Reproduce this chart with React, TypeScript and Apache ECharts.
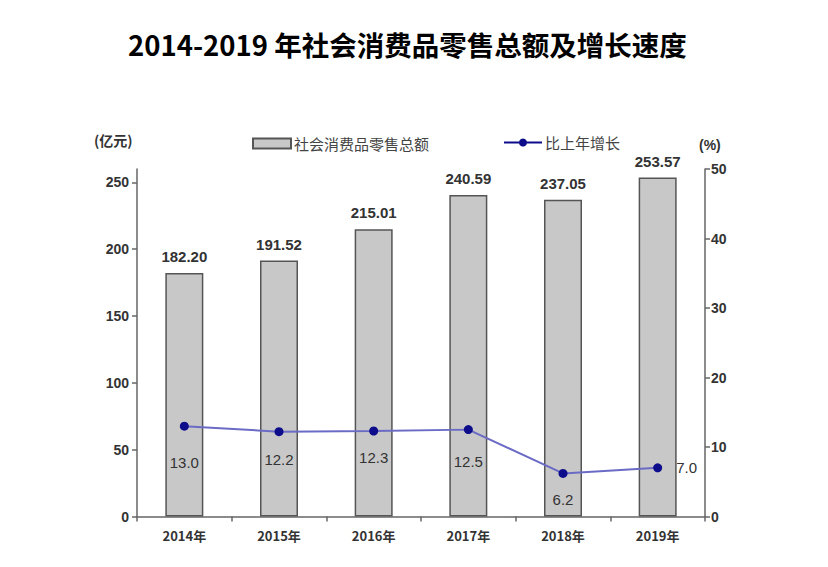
import React, { useEffect, useRef } from "react";
import * as echarts from "echarts";

const titleText = "2014-2019 年社会消费品零售总额及增长速度";
const categories = ["2014年", "2015年", "2016年", "2017年", "2018年", "2019年"];
const salesValues = [182.2, 191.52, 215.01, 240.59, 237.05, 253.57];
const growthValues = [13.0, 12.2, 12.3, 12.5, 6.2, 7.0];
const leftTicks = [0, 50, 100, 150, 200, 250];
const salesName = "社会消费品零售总额";
const growthName = "比上年增长";
const leftUnit = "(亿元)";
const rightUnit = "(%)";

const FONT = "'Liberation Sans', 'Noto Sans CJK SC', sans-serif";
const CJK = "'Noto Sans CJK SC', 'Liberation Sans', sans-serif";

// label placement per point (position, distance)
const growthLabelPos: Array<[string, number]> = [
  ["bottom", 24],
  ["bottom", 16],
  ["bottom", 14],
  ["bottom", 20],
  ["bottom", 14],
  ["right", 14],
];

export default function App() {
  const ref = useRef<HTMLDivElement>(null);
  useEffect(() => {
    if (!ref.current) return;
    const chart = echarts.init(ref.current, null, { renderer: "svg" });
    const option: any = {
      animation: false,
      backgroundColor: "#ffffff",
      title: {
        text: titleText,
        left: 123,
        top: 25,
        textStyle: {
          fontFamily: CJK,
          fontSize: 27.5,
          fontWeight: "bold",
          color: "#000",
        },
      },
      legend: [
        {
          data: [salesName],
          left: 247,
          top: 131,
          itemWidth: 38,
          itemHeight: 10,
          itemGap: 4,
          textStyle: { fontFamily: CJK, fontSize: 15, color: "#444", padding: [0, 0, 0, -2] },
          icon: "rect",
        },
        {
          data: [growthName],
          left: 498,
          top: 130,
          itemWidth: 38,
          itemHeight: 10,
          lineStyle: { color: "#0d0d8c", width: 2 },
          textStyle: { fontFamily: CJK, fontSize: 15, color: "#444", padding: [0, 0, 0, -2] },
        },
      ],
      graphic: [
        {
          type: "text",
          left: 94,
          top: 133,
          style: { text: leftUnit, font: `bold 14px ${CJK}`, fill: "#333" },
        },
        {
          type: "text",
          left: 699,
          top: 138,
          style: { text: rightUnit, font: `bold 14px ${FONT}`, fill: "#333" },
        },
      ],
      grid: { left: 137, right: 123, top: 169, bottom: 50.5, containLabel: false },
      xAxis: {
        type: "category",
        data: categories,
        boundaryGap: true,
        axisLine: { lineStyle: { color: "#666", width: 1.5 } },
        axisTick: { show: true, length: 5, lineStyle: { color: "#666", width: 1.5 } },
        axisLabel: {
          margin: 12,
          fontFamily: CJK,
          fontSize: 13,
          fontWeight: "bold",
          color: "#333",
        },
        splitLine: { show: false },
      },
      yAxis: [
        {
          type: "value",
          min: 0,
          max: 260,
          interval: 50,
          axisLine: { show: true, lineStyle: { color: "#666", width: 1.5 } },
          axisTick: {
            show: true,
            length: 5,
            customValues: leftTicks,
            lineStyle: { color: "#666", width: 1.5 },
          },
          axisLabel: {
            customValues: leftTicks,
            margin: 8,
            fontFamily: FONT,
            fontSize: 14,
            fontWeight: "bold",
            color: "#333",
          },
          splitLine: { show: false },
        },
        {
          type: "value",
          min: 0,
          max: 50,
          interval: 10,
          position: "right",
          axisLine: { show: true, lineStyle: { color: "#666", width: 1.5 } },
          axisTick: { show: true, length: 5, lineStyle: { color: "#666", width: 1.5 } },
          axisLabel: {
            margin: 6,
            fontFamily: FONT,
            fontSize: 14,
            fontWeight: "bold",
            color: "#333",
          },
          splitLine: { show: false },
        },
      ],
      series: [
        {
          name: salesName,
          type: "bar",
          yAxisIndex: 0,
          data: salesValues,
          barWidth: 38,
          itemStyle: { color: "#c8c8c8", borderColor: "#555", borderWidth: 1.5 },
          label: {
            show: true,
            position: "top",
            distance: 9,
            formatter: (p: any) => p.value.toFixed(2),
            fontFamily: FONT,
            fontSize: 15,
            fontWeight: "bold",
            color: "#333",
          },
        },
        {
          name: growthName,
          type: "line",
          yAxisIndex: 1,
          data: growthValues.map((v, i) => ({
            value: v,
            label: { position: growthLabelPos[i][0], distance: growthLabelPos[i][1] },
          })),
          symbol: "circle",
          symbolSize: 9,
          color: "#0d0d8c",
          itemStyle: { color: "#0d0d8c" },
          lineStyle: { color: "#6b6bc6", width: 2 },
          label: {
            show: true,
            formatter: (p: any) => Number(p.value).toFixed(1),
            fontFamily: FONT,
            fontSize: 15,
            color: "#333",
          },
        },
      ],
    };
    chart.setOption(option);
    return () => chart.dispose();
  }, []);
  return (
    <div
      ref={ref}
      style={{ position: "absolute", left: 0, top: 0, width: 828, height: 567 }}
    />
  );
}
